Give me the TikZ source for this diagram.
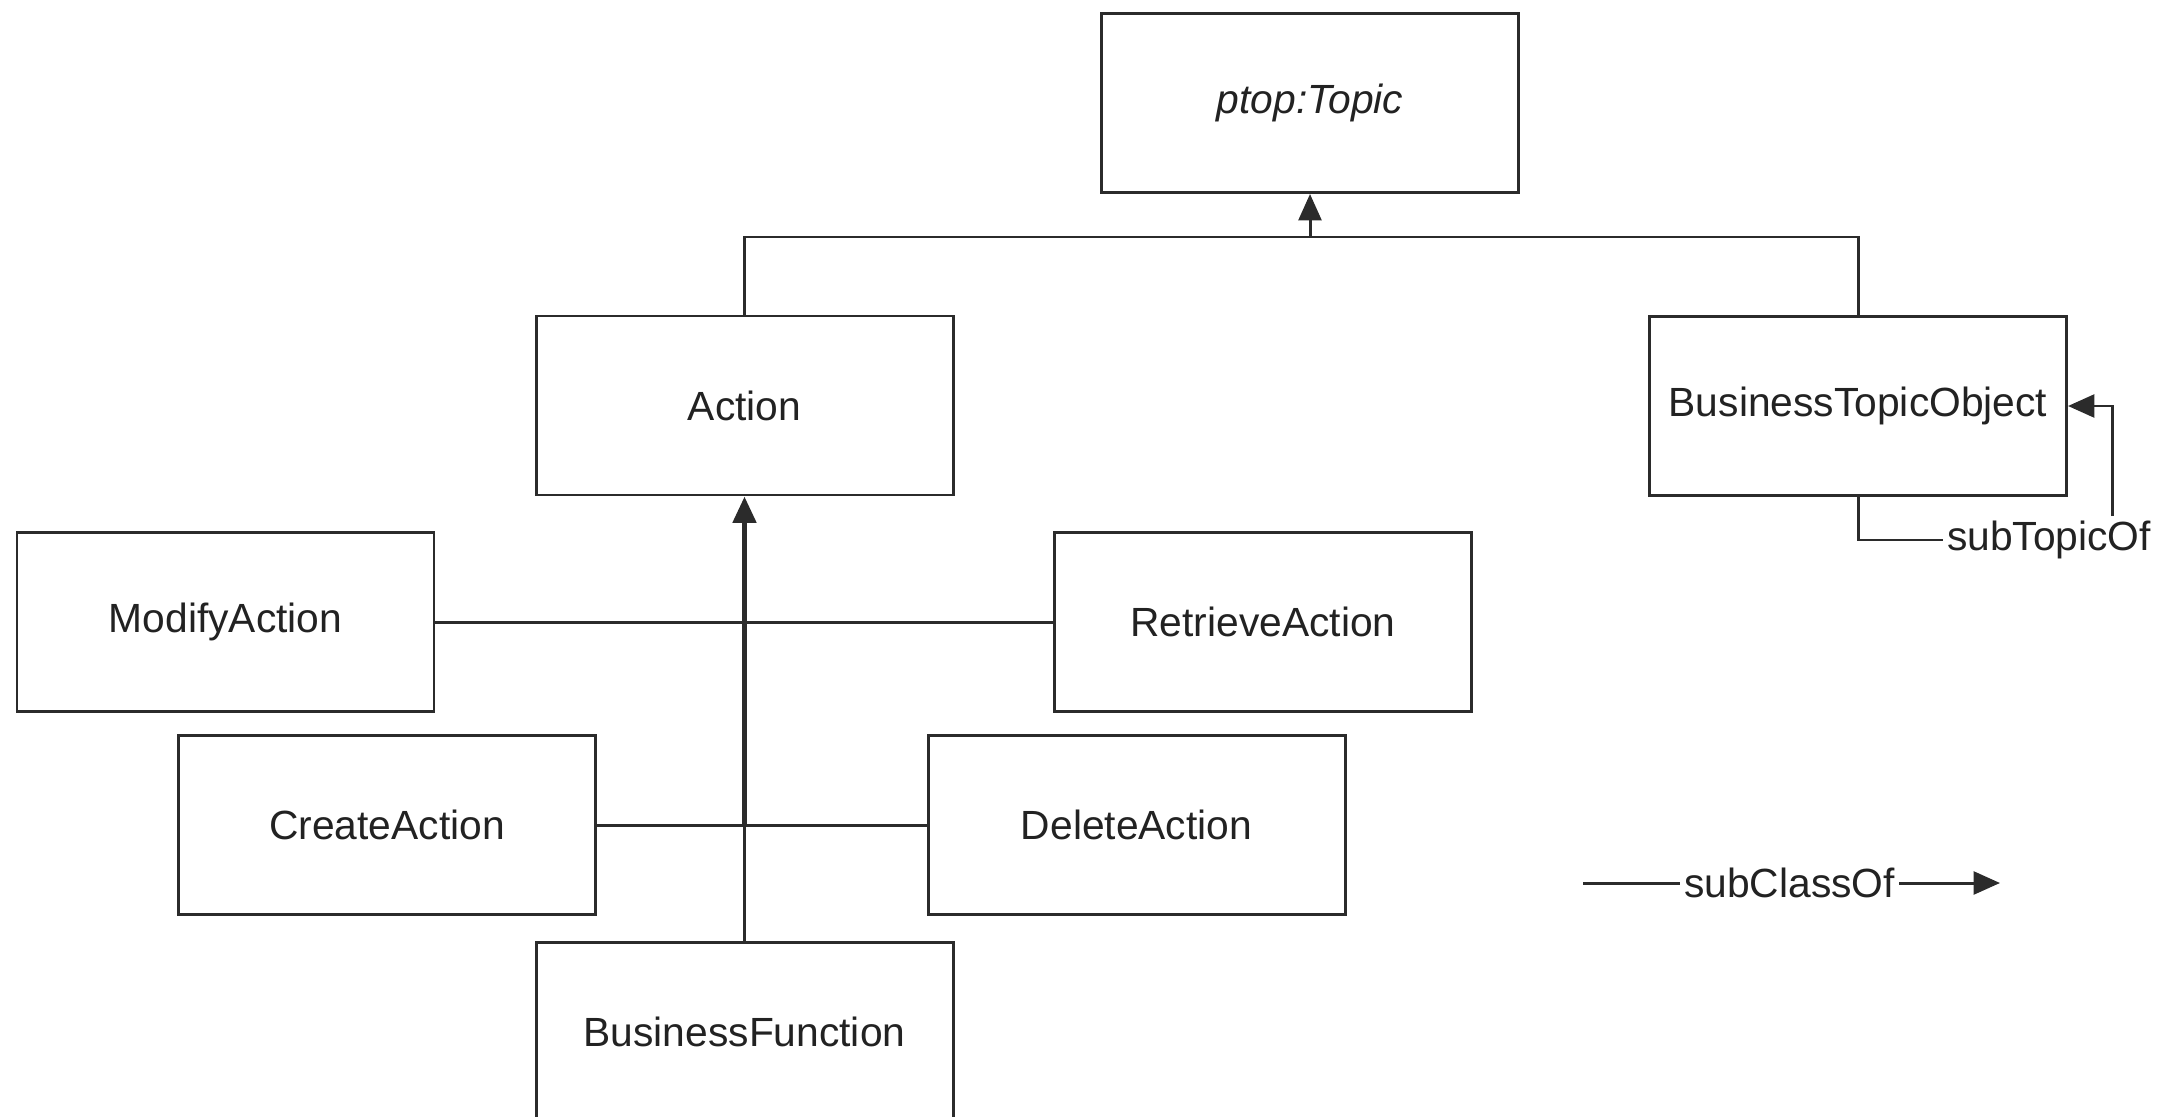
\documentclass[tikz,border=0pt]{standalone}
\usepackage{fontspec}
\setmainfont{Liberation Sans}
\usepackage{tikz}
\usetikzlibrary{arrows.meta}
\definecolor{cline}{HTML}{2B2B2B}
\definecolor{ctext}{HTML}{222222}
\tikzset{
  classbox/.style={draw=cline, line width=0.85pt, fill=white, align=center,
    minimum width=4.17cm, minimum height=1.79cm, inner sep=2pt,
    text=ctext, font=\fontsize{11.6}{14}\selectfont},
  relabel/.style={inner sep=1pt, text=ctext, font=\fontsize{11.6}{14}\selectfont},
  relline/.style={draw=cline, line width=0.85pt},
  subarrow/.style={relline, -{Triangle[length=7.5pt,width=6.5pt]}},
  mainarrow/.style={subarrow, line width=1.5pt}
}

\begin{document}
\begin{tikzpicture}
    \path[use as bounding box, clip] (0,0) rectangle (21.76,-11.17);

    \node[classbox] (topic) at (13.10,-1.03) {\itshape ptop:Topic};
    \node[classbox] (action) at (7.445,-4.055) {Action};
    \node[classbox] (bto) at (18.58,-4.06) {BusinessTopicObject};
    \node[classbox] (modify) at (2.255,-6.22) {ModifyAction};
    \node[classbox] (retrieve) at (12.63,-6.22) {RetrieveAction};
    \node[classbox] (create) at (3.87,-8.25) {CreateAction};
    \node[classbox] (delete) at (11.365,-8.25) {DeleteAction};
    \node[classbox] (bizfunc) at (7.445,-10.32) {BusinessFunction};

    % subclasses of ptop:Topic
    \coordinate (topjoin) at (topic.south |- 0,-2.37);
    \draw[relline] (action.north) |- (topjoin) -| (bto.north);
    \draw[subarrow] (topjoin) -- (topic.south);

    % subclasses of Action
    \coordinate (actjoin) at (action.south |- create.east);
    \draw[relline] (modify.east) -- (retrieve.west);
    \draw[relline] (create.east) -- (delete.west);
    \draw[relline] (bizfunc.north) -- (actjoin);
    \draw[mainarrow] (actjoin) -- (action.south);

    % subTopicOf loop
    \node[relabel] (subtopic) at (20.49,-5.40) {subTopicOf};
    \coordinate (subup) at (21.12,-5.16);
    \draw[relline] (bto.south) |- (subtopic.west);
    \draw[subarrow] (subup) |- (bto.east);

    % legend
    \node[relabel] (legend) at (17.895,-8.83) {subClassOf};
    \coordinate (legstart) at (15.83,-8.83);
    \coordinate (legend-end) at (20.00,-8.83);
    \draw[relline] (legstart) -- (legend.west);
    \draw[subarrow] (legend.east) -- (legend-end);
  \end{tikzpicture}
\end{document}
